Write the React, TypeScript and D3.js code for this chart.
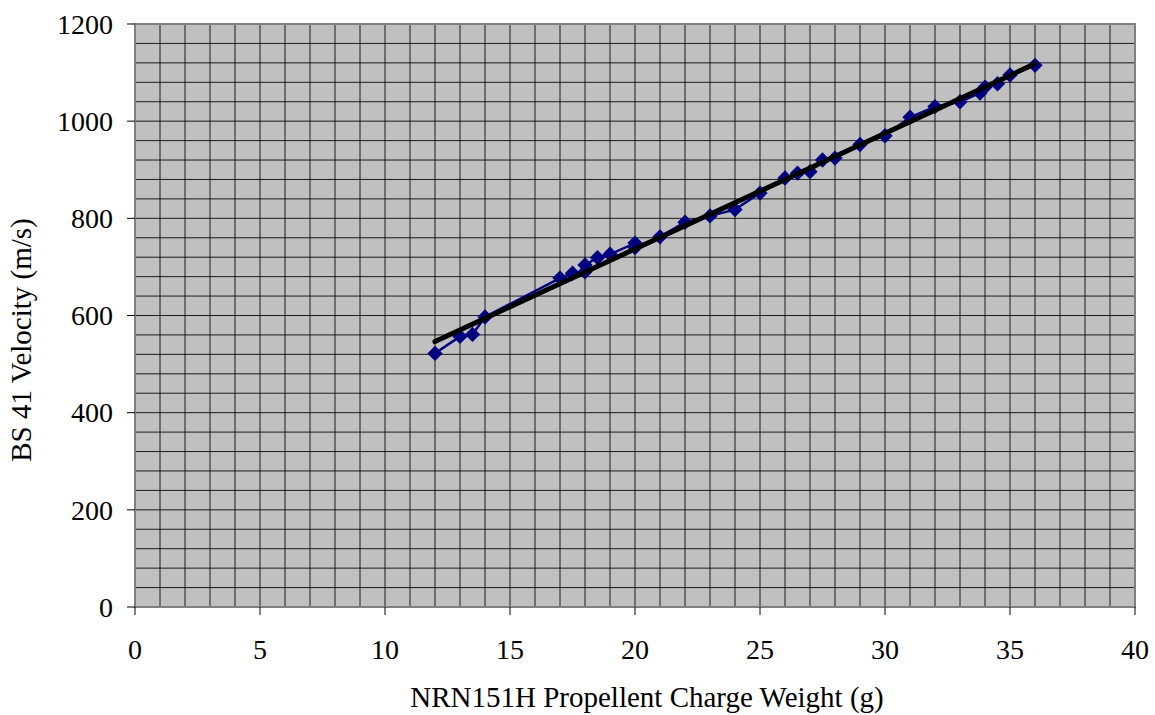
import React from "react";
import * as d3 from "d3";

const chargeWeight = [12, 13, 13.5, 14, 17, 17.5, 18, 18, 18.5, 19, 20, 20, 21, 22, 23, 24, 25, 26, 26.5, 27, 27.5, 28, 29, 30, 31, 32, 33, 33.8, 34, 34.5, 35, 36];
const velocity = [522, 557, 561, 597, 677, 687, 690, 704, 719, 726, 749, 740, 762, 792, 805, 818, 852, 883, 893, 896, 920, 924, 952, 970, 1008, 1030, 1040, 1058, 1070, 1077, 1095, 1115];
const xTicks = [0, 5, 10, 15, 20, 25, 30, 35, 40];
const yTicks = [0, 200, 400, 600, 800, 1000, 1200];

const W = 1155, H = 715;
const m = { left: 135, right: 1135, top: 24, bottom: 607 };
const font = "'Liberation Serif', 'Times New Roman', Times, serif";

export default function App() {
  const x = d3.scaleLinear().domain([0, 40]).range([m.left, m.right]);
  const y = d3.scaleLinear().domain([0, 1200]).range([m.bottom, m.top]);
  const pts = chargeWeight.map((c, i) => [c, velocity[i]] as [number, number]);

  // linear least-squares trendline
  const mx = d3.mean(chargeWeight)!;
  const my = d3.mean(velocity)!;
  let sxy = 0, sxx = 0;
  pts.forEach(([a, b]) => { sxy += (a - mx) * (b - my); sxx += (a - mx) ** 2; });
  const slope = sxy / sxx;
  const icpt = my - slope * mx;
  const xMin = d3.min(chargeWeight)!, xMax = d3.max(chargeWeight)!;
  const trend: [number, number][] = [[xMin, icpt + slope * xMin], [xMax, icpt + slope * xMax]];

  const line = d3.line<[number, number]>().x(d => x(d[0])).y(d => y(d[1]));
  const diamond = d3.symbol().type(d3.symbolDiamond2 ?? d3.symbolDiamond).size(150)();

  const vGrid = d3.range(1, 40, 1);
  const hGrid = d3.range(40, 1200, 40);
  const tickStyle = { fontFamily: font, fontSize: 28, fill: "#000" } as React.CSSProperties;
  const titleStyle = { fontFamily: font, fontSize: 29, fill: "#000" } as React.CSSProperties;

  return (
    <svg width={W} height={H} style={{ position: "absolute", left: 0, top: 0 }}>
      <rect x={0} y={0} width={W} height={H} fill="#fff" />
      <rect x={m.left} y={m.top} width={m.right - m.left} height={m.bottom - m.top} fill="#C0C0C0" />
      {vGrid.map(v => (
        <line key={"v" + v} x1={x(v)} x2={x(v)} y1={m.top} y2={m.bottom} stroke="#000" strokeWidth={1} strokeOpacity={0.85} />
      ))}
      {hGrid.map(v => (
        <line key={"h" + v} x1={m.left} x2={m.right} y1={y(v)} y2={y(v)} stroke="#000" strokeWidth={1} strokeOpacity={0.85} />
      ))}
      <rect x={m.left} y={m.top} width={m.right - m.left} height={m.bottom - m.top} fill="none" stroke="#808080" strokeWidth={2} />
      {yTicks.map(t => (
        <g key={"yt" + t}>
          <line x1={m.left - 8} x2={m.left} y1={y(t)} y2={y(t)} stroke="#000" />
          <text x={113} y={y(t)} dy="0.35em" textAnchor="end" style={tickStyle}>{t}</text>
        </g>
      ))}
      {xTicks.map(t => (
        <g key={"xt" + t}>
          <line x1={x(t)} x2={x(t)} y1={m.bottom} y2={m.bottom + 8} stroke="#000" />
          <text x={x(t)} y={659} textAnchor="middle" style={tickStyle}>{t}</text>
        </g>
      ))}
      <path d={line(pts)!} fill="none" stroke="#000080" strokeWidth={2.5} />
      {pts.map((p, i) => (
        <path key={"p" + i} d={diamond!} transform={`translate(${x(p[0])},${y(p[1])})`} fill="#000080" />
      ))}
      <path d={line(trend)!} fill="none" stroke="#000" strokeWidth={5} strokeLinecap="round" />
      <text x={647} y={707} textAnchor="middle" style={titleStyle}>NRN151H Propellent Charge Weight (g)</text>
      <text transform={`translate(31, 340) rotate(-90)`} textAnchor="middle" style={titleStyle}>BS 41 Velocity (m/s)</text>
    </svg>
  );
}
